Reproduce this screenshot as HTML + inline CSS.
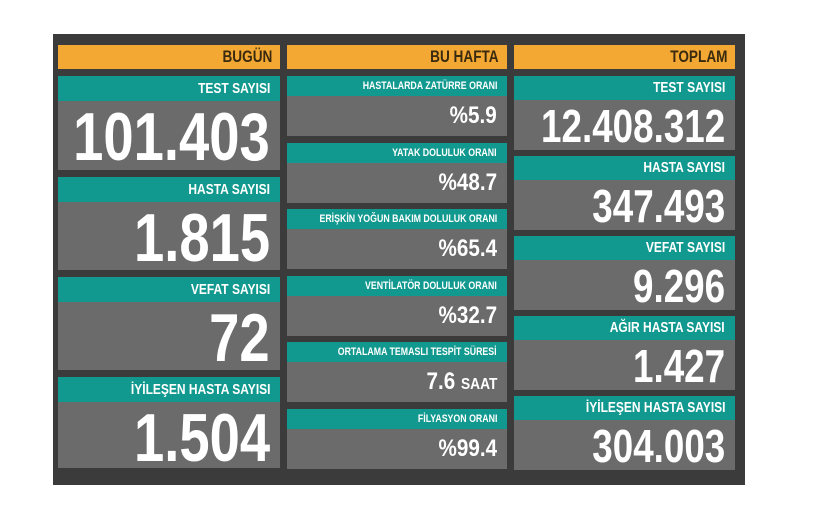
<!DOCTYPE html>
<html><head><meta charset="utf-8"><style>
*{margin:0;padding:0;box-sizing:border-box}
body{width:816px;height:528px;background:#fff;position:relative;overflow:hidden;font-family:"Liberation Sans",sans-serif;font-weight:bold}
#f{position:absolute;left:53px;top:34px;width:692px;height:451px;background:#3b3b3b}
.b{position:absolute;white-space:nowrap;overflow:hidden}
.b span{position:absolute;right:10px;top:0;transform:scaleX(0.8);transform-origin:right center}
.h span{right:8px}
.h{background:#f2a833;color:#3a2a10;font-size:17px;line-height:24px}
.t{background:#12998f;color:#fff}
.g{background:#6b6b6b;color:#fff}
.m span{transform:scaleX(0.86)}
</style></head><body>
<div id="f"></div>
<div class="b h" style="left:58px;top:45px;width:222px;height:24px"><span>BUGÜN</span></div>
<div class="b h" style="left:287px;top:45px;width:220px;height:24px"><span>BU HAFTA</span></div>
<div class="b h" style="left:514px;top:45px;width:221px;height:24px"><span>TOPLAM</span></div>

<div class="b t" style="left:58px;top:76px;width:222px;height:25px;font-size:15px;line-height:25px"><span>TEST SAYISI</span></div>
<div class="b g" style="left:58px;top:101px;width:222px;height:69px;font-size:68px;line-height:72px"><span>101.403</span></div>
<div class="b t" style="left:58px;top:177px;width:222px;height:25px;font-size:15px;line-height:25px"><span>HASTA SAYISI</span></div>
<div class="b g" style="left:58px;top:202px;width:222px;height:68px;font-size:68px;line-height:72px"><span>1.815</span></div>
<div class="b t" style="left:58px;top:277px;width:222px;height:25px;font-size:15px;line-height:25px"><span>VEFAT SAYISI</span></div>
<div class="b g" style="left:58px;top:302px;width:222px;height:68px;font-size:68px;line-height:72px"><span>72</span></div>
<div class="b t" style="left:58px;top:377px;width:222px;height:25px;font-size:15px;line-height:25px"><span>İYİLEŞEN HASTA SAYISI</span></div>
<div class="b g" style="left:58px;top:402px;width:222px;height:66px;font-size:68px;line-height:72px"><span>1.504</span></div>

<div class="b t" style="left:287px;top:76px;width:220px;height:20px;font-size:11px;line-height:20px"><span>HASTALARDA ZATÜRRE ORANI</span></div>
<div class="b g m" style="left:287px;top:96px;width:220px;height:40px;font-size:24px;line-height:40px"><span>%5.9</span></div>
<div class="b t" style="left:287px;top:143px;width:220px;height:20px;font-size:11px;line-height:20px"><span>YATAK DOLULUK ORANI</span></div>
<div class="b g m" style="left:287px;top:163px;width:220px;height:40px;font-size:24px;line-height:40px"><span>%48.7</span></div>
<div class="b t" style="left:287px;top:209px;width:220px;height:20px;font-size:11px;line-height:20px"><span>ERİŞKİN YOĞUN BAKIM DOLULUK ORANI</span></div>
<div class="b g m" style="left:287px;top:229px;width:220px;height:40px;font-size:24px;line-height:40px"><span>%65.4</span></div>
<div class="b t" style="left:287px;top:276px;width:220px;height:20px;font-size:11px;line-height:20px"><span>VENTİLATÖR DOLULUK ORANI</span></div>
<div class="b g m" style="left:287px;top:296px;width:220px;height:40px;font-size:24px;line-height:40px"><span>%32.7</span></div>
<div class="b t" style="left:287px;top:342px;width:220px;height:20px;font-size:11px;line-height:20px"><span>ORTALAMA TEMASLI TESPİT SÜRESİ</span></div>
<div class="b g m" style="left:287px;top:362px;width:220px;height:40px;font-size:24px;line-height:40px"><span>7.6 <b style="font-size:16px">SAAT</b></span></div>
<div class="b t" style="left:287px;top:409px;width:220px;height:20px;font-size:11px;line-height:20px"><span>FİLYASYON ORANI</span></div>
<div class="b g m" style="left:287px;top:429px;width:220px;height:40px;font-size:24px;line-height:40px"><span>%99.4</span></div>

<div class="b t" style="left:514px;top:76px;width:221px;height:24px;font-size:15px;line-height:24px"><span>TEST SAYISI</span></div>
<div class="b g" style="left:514px;top:100px;width:221px;height:50px;font-size:46px;line-height:52px"><span>12.408.312</span></div>
<div class="b t" style="left:514px;top:156px;width:221px;height:24px;font-size:15px;line-height:24px"><span>HASTA SAYISI</span></div>
<div class="b g" style="left:514px;top:180px;width:221px;height:50px;font-size:46px;line-height:52px"><span>347.493</span></div>
<div class="b t" style="left:514px;top:236px;width:221px;height:24px;font-size:15px;line-height:24px"><span>VEFAT SAYISI</span></div>
<div class="b g" style="left:514px;top:260px;width:221px;height:50px;font-size:46px;line-height:52px"><span>9.296</span></div>
<div class="b t" style="left:514px;top:316px;width:221px;height:24px;font-size:15px;line-height:24px"><span>AĞIR HASTA SAYISI</span></div>
<div class="b g" style="left:514px;top:340px;width:221px;height:50px;font-size:46px;line-height:52px"><span>1.427</span></div>
<div class="b t" style="left:514px;top:396px;width:221px;height:24px;font-size:15px;line-height:24px"><span>İYİLEŞEN HASTA SAYISI</span></div>
<div class="b g" style="left:514px;top:420px;width:221px;height:50px;font-size:46px;line-height:52px"><span>304.003</span></div>
</body></html>
